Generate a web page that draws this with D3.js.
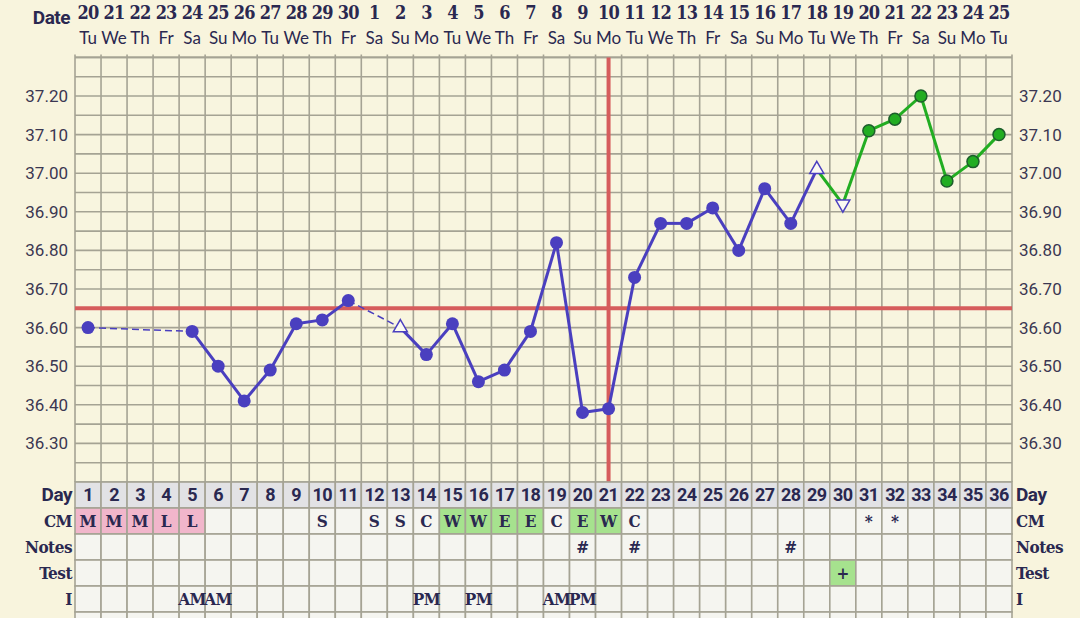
<!DOCTYPE html>
<html>
<head>
<meta charset="utf-8">
<script src="https://cdn.jsdelivr.net/npm/d3@7"></script>
<style>
  body { margin: 0; background: #f8f4dd; }
  svg { display: block; }
</style>
</head>
<body>
<svg id="chart"></svg>
<script>
//chart data
var days = [1,2,3,4,5,6,7,8,9,10,11,12,13,14,15,16,17,18,19,20,21,22,23,24,25,26,27,28,29,30,31,32,33,34,35,36];
var dates = [20,21,22,23,24,25,26,27,28,29,30,1,2,3,4,5,6,7,8,9,10,11,12,13,14,15,16,17,18,19,20,21,22,23,24,25];
var weekdays = ['Tu','We','Th','Fr','Sa','Su','Mo','Tu','We','Th','Fr','Sa','Su','Mo','Tu','We','Th','Fr','Sa','Su','Mo','Tu','We','Th','Fr','Sa','Su','Mo','Tu','We','Th','Fr','Sa','Su','Mo','Tu'];
var temps = [36.60,null,null,null,36.59,36.50,36.41,36.49,36.61,36.62,36.67,null,36.60,36.53,36.61,36.46,36.49,36.59,36.82,36.38,36.39,36.73,36.87,36.87,36.91,36.80,36.96,36.87,37.01,36.92,37.11,37.14,37.20,36.98,37.03,37.10];
var openUpDays = [13, 29];
var openDownDays = [30];
var highPhaseStart = 29;
var yTicks = [36.30,36.40,36.50,36.60,36.70,36.80,36.90,37.00,37.10,37.20];
var coverline = 36.65;
var ovulationDay = 21;

var cm = ['M','M','M','L','L','','','','','S','','S','S','C','W','W','E','E','C','E','W','C','','','','','','','','','*','*','','','',''];
var notes = ['','','','','','','','','','','','','','','','','','','','#','','#','','','','','','#','','','','','','','',''];
var tests = ['','','','','','','','','','','','','','','','','','','','','','','','','','','','','','+','','','','','',''];
var intercourse = ['','','','','AM','AM','','','','','','','','PM','','PM','','','AM','PM','','','','','','','','','','','','','','','',''];
var rowLabels = ['Day','CM','Notes','Test','I'];

function drawChart() {
    //colours
    var ink = '#2a2850',
        gridColor = '#a5a394',
        blue = '#4a3fbf',
        green = '#22ad22',
        red = '#d65c5c';
    var slab = '"DejaVu Serif Condensed", "DejaVu Serif", serif';

    //chart parameters
    var svg = d3.select('#chart')
        .attr('width', 1080)
        .attr('height', 618);

    var left = 75, right = 1012, plotTop = 57.4, plotBottom = 482, rowH = 26;

    //define scales
    var xScale = d3.scaleBand().domain(days).range([left, right]),
        yScale = d3.scaleLinear().domain([36.20, 37.30]).range([plotBottom, plotTop]);
    var bw = xScale.bandwidth();
    var cx = d => xScale(d) + bw / 2;

    //background
    svg.append('rect')
        .attr('width', 1080).attr('height', 618)
        .attr('fill', '#f8f4dd');

    svg.append('rect')
        .attr('x', left).attr('y', plotTop)
        .attr('width', right - left).attr('height', plotBottom - plotTop)
        .attr('fill', '#f8f5df');

    //horizontal gridlines
    svg.append('g')
        .attr('class', 'grid')
        .selectAll('line').data(yScale.ticks(22))
        .enter().append('line')
            .attr('x1', left).attr('x2', right)
            .attr('y1', d => yScale(d)).attr('y2', d => yScale(d))
            .attr('stroke', gridColor).attr('stroke-width', 1.6);

    //vertical gridlines
    svg.append('g')
        .attr('class', 'grid')
        .selectAll('line').data(days.concat(['end']))
        .enter().append('line')
            .attr('x1', d => d === 'end' ? right : xScale(d))
            .attr('x2', d => d === 'end' ? right : xScale(d))
            .attr('y1', plotTop - 3).attr('y2', plotBottom)
            .attr('stroke', gridColor).attr('stroke-width', 1.6);

    //top border
    svg.append('line')
        .attr('x1', left).attr('x2', right)
        .attr('y1', plotTop).attr('y2', plotTop)
        .attr('stroke', gridColor).attr('stroke-width', 1.6);

    //y axes
    svg.append('g')
        .attr('class', 'axis axis-y')
        .attr('transform', 'translate(' + left + ',0)')
        .call(d3.axisLeft(yScale).tickValues(yTicks).tickFormat(d3.format('.2f')).tickSize(0).tickPadding(7));
    svg.append('g')
        .attr('class', 'axis axis-y')
        .attr('transform', 'translate(' + right + ',0)')
        .call(d3.axisRight(yScale).tickValues(yTicks).tickFormat(d3.format('.2f')).tickSize(0).tickPadding(7));
    svg.selectAll('.axis-y .domain').remove();
    svg.selectAll('.axis-y text')
        .attr('font-family', 'Roboto, sans-serif')
        .attr('font-size', 17)
        .attr('fill', '#3b3752');

    //red reference lines
    svg.append('line')
        .attr('x1', left).attr('x2', right)
        .attr('y1', yScale(coverline)).attr('y2', yScale(coverline))
        .attr('stroke', red).attr('stroke-width', 4);
    svg.append('line')
        .attr('x1', cx(ovulationDay)).attr('x2', cx(ovulationDay))
        .attr('y1', plotTop).attr('y2', plotBottom)
        .attr('stroke', red).attr('stroke-width', 4);

    //temperature line segments
    var pts = days.map((d, i) => ({day: d, t: temps[i]})).filter(p => p.t != null);
    var segs = [];
    for (var i = 1; i < pts.length; i++) {
        segs.push({a: pts[i - 1], b: pts[i], dashed: pts[i].day - pts[i - 1].day > 1});
    }
    svg.append('g')
        .selectAll('line').data(segs)
        .enter().append('line')
            .attr('x1', s => cx(s.a.day)).attr('y1', s => yScale(s.a.t))
            .attr('x2', s => cx(s.b.day)).attr('y2', s => yScale(s.b.t))
            .attr('stroke', s => s.a.day >= highPhaseStart ? green : blue)
            .attr('stroke-width', s => s.dashed ? 1.5 : 3)
            .attr('stroke-dasharray', s => s.dashed ? '7,4' : null);

    //markers
    var isOpen = p => openUpDays.indexOf(p.day) >= 0 || openDownDays.indexOf(p.day) >= 0;
    svg.append('g')
        .selectAll('circle').data(pts.filter(p => !isOpen(p)))
        .enter().append('circle')
            .attr('cx', p => cx(p.day))
            .attr('cy', p => yScale(p.t))
            .attr('r', p => p.day > highPhaseStart ? 6 : 6.5)
            .attr('fill', p => p.day > highPhaseStart ? green : blue)
            .attr('stroke', p => p.day > highPhaseStart ? '#1d5e2c' : 'none')
            .attr('stroke-width', 1.5);

    var tri = d3.symbol().type(d3.symbolTriangle).size(85);
    svg.append('g')
        .selectAll('path').data(pts.filter(isOpen))
        .enter().append('path')
            .attr('d', tri)
            .attr('transform', p => 'translate(' + cx(p.day) + ',' + yScale(p.t) + ')' + (openDownDays.indexOf(p.day) >= 0 ? ' rotate(180)' : ''))
            .attr('fill', '#fbfaf2')
            .attr('stroke', blue)
            .attr('stroke-width', 1.5);

    //header: dates and weekdays
    svg.append('text')
        .attr('x', 70).attr('y', 24)
        .attr('text-anchor', 'end')
        .attr('font-family', 'Roboto, sans-serif')
        .attr('font-weight', 'bold')
        .attr('font-size', 19)
        .attr('letter-spacing', -0.5)
        .attr('fill', ink)
        .text('Date');

    svg.append('g')
        .selectAll('text').data(days)
        .enter().append('text')
            .attr('x', d => cx(d)).attr('y', 19)
            .attr('text-anchor', 'middle')
            .attr('font-family', slab)
            .attr('font-weight', 'bold')
            .attr('font-size', 18)
            .attr('letter-spacing', -0.8)
            .attr('fill', ink)
            .text((d, i) => dates[i]);

    svg.append('g')
        .selectAll('text').data(days)
        .enter().append('text')
            .attr('x', d => cx(d)).attr('y', 44)
            .attr('text-anchor', 'middle')
            .attr('font-family', 'Lato, sans-serif')
            .attr('font-size', 17)
            .attr('fill', ink)
            .text((d, i) => weekdays[i]);

    //table rows
    var rowData = [days, cm, notes, tests, intercourse, days.map(() => '')];
    function cellFill(r, v) {
        if (r === 0) return '#e2e2e5';
        if (r === 1 && (v === 'M' || v === 'L')) return '#f1b6cb';
        if ((r === 1 && (v === 'W' || v === 'E')) || (r === 3 && v === '+')) return '#a6e28e';
        return '#f5f5f0';
    }

    rowData.forEach(function(vals, r) {
        var y0 = plotBottom + r * rowH;
        var row = svg.append('g').attr('class', 'row');
        row.selectAll('rect').data(days)
            .enter().append('rect')
                .attr('x', d => xScale(d)).attr('y', y0)
                .attr('width', bw).attr('height', rowH)
                .attr('fill', (d, i) => cellFill(r, r === 0 ? d : vals[i]))
                .attr('stroke', gridColor).attr('stroke-width', 1.6);
        row.selectAll('text').data(days)
            .enter().append('text')
                .attr('x', d => cx(d)).attr('y', y0 + 19)
                .attr('text-anchor', 'middle')
                .attr('font-family', r === 0 ? 'Roboto, sans-serif' : slab)
                .attr('font-weight', 'bold')
                .attr('font-size', r === 0 ? 18 : 17)
                .attr('letter-spacing', r === 0 ? -0.6 : (r === 4 ? -0.6 : 0))
                .attr('fill', ink)
                .text((d, i) => r === 0 ? d : vals[i]);
    });

    //row labels, both sides
    rowLabels.forEach(function(lab, r) {
        var yb = plotBottom + r * rowH + 19;
        var fam = r === 0 ? 'Roboto, sans-serif' : slab;
        [[72, 'end'], [1016, 'start']].forEach(function(p) {
            svg.append('text')
                .attr('x', p[0]).attr('y', yb)
                .attr('text-anchor', p[1])
                .attr('font-family', fam)
                .attr('font-weight', 'bold')
                .attr('font-size', r === 0 ? 19 : 17)
                .attr('letter-spacing', -0.5)
                .attr('fill', ink)
                .text(lab);
        });
    });
}

drawChart();
</script>
</body>
</html>
